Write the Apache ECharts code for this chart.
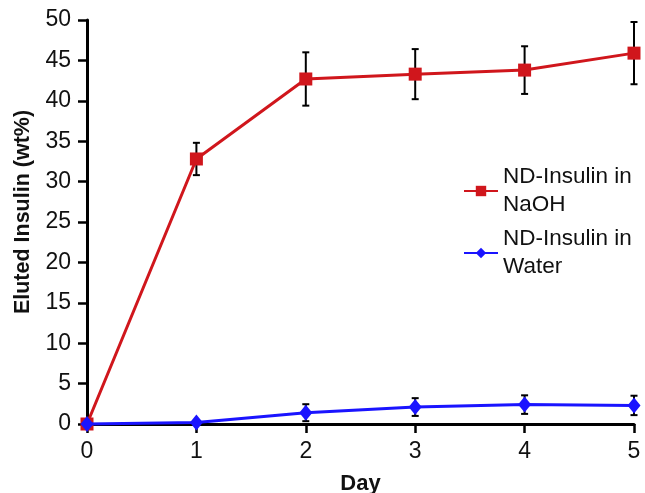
<!DOCTYPE html>
<html>
<head>
<meta charset="utf-8">
<script src="https://cdn.jsdelivr.net/npm/echarts@6/dist/echarts.min.js"></script>
<style>html,body{margin:0;padding:0;background:#fff}#c{width:645px;height:493px}</style>
</head>
<body>
<div id="c"></div>
<script>
const days = [0, 1, 2, 3, 4, 5];
const naohMean = [0, 32.8, 42.7, 43.3, 43.8, 45.9];
const naohErr = [0, 2.0, 3.3, 3.1, 2.95, 3.85];
const waterMean = [0, 0.2, 1.4, 2.1, 2.4, 2.3];
const waterErr = [0, 0, 1.05, 1.1, 1.15, 1.2];
const xTicks = [0, 1, 2, 3, 4, 5];
const yTicks = [0, 5, 10, 15, 20, 25, 30, 35, 40, 45, 50];
const nameNaOH = 'ND-Insulin in\nNaOH';
const nameWater = 'ND-Insulin in\nWater';

const FONT = '"Liberation Sans", Arial, sans-serif';
const RED = '#d0161c';
const BLUE = '#1a14ff';

function errData(mean, err) {
  return days.map((d, i) => [d, mean[i], err[i]]).filter(r => r[2] > 0);
}
function errRender(params, api) {
  const x = api.value(0), m = api.value(1), e = api.value(2);
  const top = api.coord([x, m + e]);
  const bot = api.coord([x, m - e]);
  const hw = 3.5;
  const st = { stroke: '#000', lineWidth: 2 };
  return {
    type: 'group',
    children: [
      { type: 'line', shape: { x1: top[0], y1: top[1], x2: bot[0], y2: bot[1] }, style: st },
      { type: 'line', shape: { x1: top[0] - hw, y1: top[1], x2: top[0] + hw, y2: top[1] }, style: st },
      { type: 'line', shape: { x1: bot[0] - hw, y1: bot[1], x2: bot[0] + hw, y2: bot[1] }, style: st }
    ]
  };
}

const legendText = {
  fontFamily: FONT, fontSize: 22.5, color: '#111', lineHeight: 28, padding: [28, 0, 0, 0]
};

const chart = echarts.init(document.getElementById('c'), null, { renderer: 'canvas' });
chart.setOption({
  animation: false,
  backgroundColor: '#fff',
  grid: { left: 87, right: 11, top: 20, bottom: 69, containLabel: false, outerBoundsMode: 'none' },
  legend: [
    { data: [nameNaOH], left: 463, top: 149, padding: 0, itemWidth: 34, itemHeight: 13, itemGap: 5,
      textStyle: legendText, selectedMode: false },
    { data: [nameWater], left: 463, top: 211, padding: 0, itemWidth: 34, itemHeight: 13, itemGap: 5,
      textStyle: legendText, selectedMode: false }
  ],
  xAxis: {
    type: 'value', min: 0, max: 5, interval: 1,
    name: 'Day', nameLocation: 'middle', nameGap: 49,
    nameTextStyle: { fontFamily: FONT, fontSize: 22, fontWeight: 'bold', color: '#111' },
    axisLine: { lineStyle: { color: '#000', width: 3 } },
    axisTick: { length: 9, lineStyle: { color: '#000', width: 2.5 } },
    axisLabel: { fontFamily: FONT, fontSize: 23, color: '#111', margin: 16,
      formatter: v => xTicks.includes(v) ? String(v) : '' },
    splitLine: { show: false }
  },
  yAxis: {
    type: 'value', min: 0, max: 50, interval: 5,
    name: 'Eluted Insulin (wt%)', nameLocation: 'middle', nameGap: 53,
    nameTextStyle: { fontFamily: FONT, fontSize: 21.5, fontWeight: 'bold', color: '#111', padding: [0, 0, 0, 20] },
    axisLine: { lineStyle: { color: '#000', width: 3 } },
    axisTick: { length: 9, lineStyle: { color: '#000', width: 2.5 } },
    axisLabel: { fontFamily: FONT, fontSize: 23, color: '#111', margin: 16,
      formatter: v => yTicks.includes(v) ? String(v) : '' },
    splitLine: { show: false }
  },
  series: [
    { type: 'custom', name: 'errN', data: errData(naohMean, naohErr), renderItem: errRender, z: 1, clip: false },
    { type: 'custom', name: 'errW', data: errData(waterMean, waterErr), renderItem: errRender, z: 1, clip: false },
    { type: 'line', name: nameNaOH, data: days.map((d, i) => [d, naohMean[i]]),
      symbol: 'rect', symbolSize: 13, showAllSymbol: true, clip: false, z: 3,
      lineStyle: { color: RED, width: 3 }, itemStyle: { color: RED } },
    { type: 'line', name: nameWater, data: days.map((d, i) => [d, waterMean[i]]),
      symbol: 'diamond', symbolSize: [13, 16], showAllSymbol: true, clip: false, z: 4,
      lineStyle: { color: BLUE, width: 3 }, itemStyle: { color: BLUE } }
  ]
});
</script>
</body>
</html>
